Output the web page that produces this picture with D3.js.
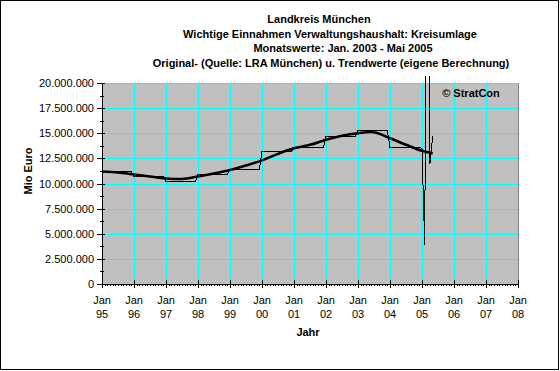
<!DOCTYPE html>
<html><head><meta charset="utf-8">
<script src="https://cdn.jsdelivr.net/npm/d3@7"></script>
<style>
html,body{margin:0;padding:0;background:#fff;}
svg{display:block;font-family:"Liberation Sans",Arial,sans-serif;}
</style></head>
<body>
<svg id="c" width="560" height="371"></svg>
<script>
// ---- data ----
const titleLines = ["Landkreis München","Wichtige Einnahmen Verwaltungshaushalt: Kreisumlage","Monatswerte: Jan. 2003 - Mai 2005","Original- (Quelle: LRA München) u. Trendwerte (eigene Berechnung)"];
const years = [1995,1996,1997,1998,1999,2000,2001,2002,2003,2004];
const annualValues = [11200000,10700000,10200000,10900000,11400000,13200000,13600000,14700000,15300000,13600000];
const months2005 = [2005, 2005+1/12, 2005+2/12, 2005+3/12, 2005+4/12];
const monthly2005 = [13500000, 4000000, 45000000, 12000000, 14700000];
const trendX = [1995,1995.5,1996,1996.5,1997,1997.5,1998,1998.5,1999,1999.5,2000,2000.5,2001,2001.5,2002,2002.5,2003,2003.5,2004,2004.5,2005,2005+4/12];
const trendValues = [11200000,11100000,10900000,10700000,10500000,10450000,10700000,11000000,11350000,11800000,12300000,12950000,13500000,13850000,14350000,14750000,15000000,15100000,14500000,13850000,13250000,13000000];
const yTicks = [0,2500000,5000000,7500000,10000000,12500000,15000000,17500000,20000000];
const xTickYears = [1995,1996,1997,1998,1999,2000,2001,2002,2003,2004,2005,2006,2007,2008];
const xTickLabels = ["95","96","97","98","99","00","01","02","03","04","05","06","07","08"];

// ---- layout ----
const svg = d3.select("#c");
const L=102, R=518, T=83, B=284;
const x = d3.scaleLinear().domain([1995,2008]).range([L,R]);
const y = d3.scaleLinear().domain([0,20000000]).range([B,T]);
const de = d3.formatLocale({decimal:",",thousands:".",grouping:[3],currency:["","€"]});
const fmt = de.format(",d");

// outer frame
svg.append("rect").attr("x",0.5).attr("y",0.5).attr("width",558).attr("height",369)
  .attr("fill","#fff").attr("stroke","#000");

// titles
const titleX=[319,330,343,331], titleY=[23,37.5,52,66.5];
titleLines.forEach((t,i)=>{
  svg.append("text").attr("x",titleX[i]).attr("y",titleY[i]).attr("text-anchor","middle")
    .attr("font-size","11px").attr("font-weight","bold").text(t);
});

// plot area
svg.append("rect").attr("x",L).attr("y",T).attr("width",R-L).attr("height",B-T)
  .attr("fill","#c0c0c0").attr("stroke","#808080").attr("shape-rendering","crispEdges");

// gridlines
const g = svg.append("g").attr("shape-rendering","crispEdges");
g.selectAll(".hg").data(yTicks.filter(d=>d>0)).join("line")
  .attr("x1",L).attr("x2",R).attr("y1",d=>Math.round(y(d))+0.5).attr("y2",d=>Math.round(y(d))+0.5)
  .attr("stroke","#00ffff");
g.selectAll(".vg").data(xTickYears.filter(d=>d>1995&&d<2008)).join("line")
  .attr("x1",d=>Math.round(x(d))+0.5).attr("x2",d=>Math.round(x(d))+0.5).attr("y1",T).attr("y2",B)
  .attr("stroke","#00ffff");

// clip for series
svg.append("clipPath").attr("id","clip").append("rect").attr("x",L).attr("y",76).attr("width",R-L).attr("height",B-76);

// original series: annual steps (Jan..Dec held) + monthly 2005
const orig = [];
years.forEach((yr,i)=>{ orig.push([yr,annualValues[i]]); orig.push([yr+11/12,annualValues[i]]); });
months2005.forEach((m,i)=>orig.push([m,monthly2005[i]]));
svg.append("path").datum(orig).attr("clip-path","url(#clip)")
  .attr("d",d3.line().x(d=>x(d[0])).y(d=>Math.round(y(d[1]))+0.5))
  .attr("fill","none").attr("stroke","#000").attr("stroke-width",1).attr("shape-rendering","crispEdges");

// trend
svg.append("path").datum(trendX.map((t,i)=>[t,trendValues[i]])).attr("clip-path","url(#clip)")
  .attr("d",d3.line().x(d=>x(d[0])).y(d=>y(d[1])).curve(d3.curveCatmullRom))
  .attr("fill","none").attr("stroke","#000").attr("stroke-width",2.6);

// axes
const ax = svg.append("g").attr("shape-rendering","crispEdges").attr("stroke","#000");
ax.append("line").attr("x1",L+0.5).attr("x2",L+0.5).attr("y1",T).attr("y2",B+1);
ax.append("line").attr("x1",L).attr("x2",R+1).attr("y1",B+0.5).attr("y2",B+0.5);
// y ticks
ax.selectAll(".yt").data(yTicks).join("line")
  .attr("x1",97).attr("x2",105).attr("y1",d=>Math.round(y(d))+0.5).attr("y2",d=>Math.round(y(d))+0.5);
ax.selectAll(".ym").data(yTicks.slice(0,-1)).join("line")
  .attr("x1",100).attr("x2",104).attr("y1",d=>Math.round(y(d+1250000))+0.5).attr("y2",d=>Math.round(y(d+1250000))+0.5);
// x ticks
ax.selectAll(".xt").data(xTickYears).join("line")
  .attr("x1",d=>Math.round(x(d))+0.5).attr("x2",d=>Math.round(x(d))+0.5).attr("y1",280).attr("y2",288);
const monthsAll = d3.range(0,13*12).map(k=>1995+k/12);
ax.selectAll(".xm").data(monthsAll).join("line")
  .attr("x1",d=>Math.round(x(d))+0.5).attr("x2",d=>Math.round(x(d))+0.5).attr("y1",284).attr("y2",286);

// labels
svg.selectAll(".yl").data(yTicks).join("text")
  .attr("x",94).attr("y",d=>y(d)+4).attr("text-anchor","end").attr("font-size","11px").text(d=>fmt(d));
svg.selectAll(".xl1").data(xTickYears).join("text")
  .attr("x",d=>x(d)).attr("y",304).attr("text-anchor","middle").attr("font-size","11px").text("Jan");
svg.selectAll(".xl2").data(xTickYears).join("text")
  .attr("x",d=>x(d)).attr("y",318).attr("text-anchor","middle").attr("font-size","11px").text((d,i)=>xTickLabels[i]);

svg.append("text").attr("x",308).attr("y",336).attr("text-anchor","middle")
  .attr("font-size","11px").attr("font-weight","bold").text("Jahr");
svg.append("text").attr("transform","translate(32,171) rotate(-90)").attr("text-anchor","middle")
  .attr("font-size","11px").attr("font-weight","bold").text("Mio Euro");
svg.append("text").attr("x",471).attr("y",97).attr("text-anchor","middle")
  .attr("font-size","11px").attr("font-weight","bold").text("© StratCon");
</script>
</body></html>
